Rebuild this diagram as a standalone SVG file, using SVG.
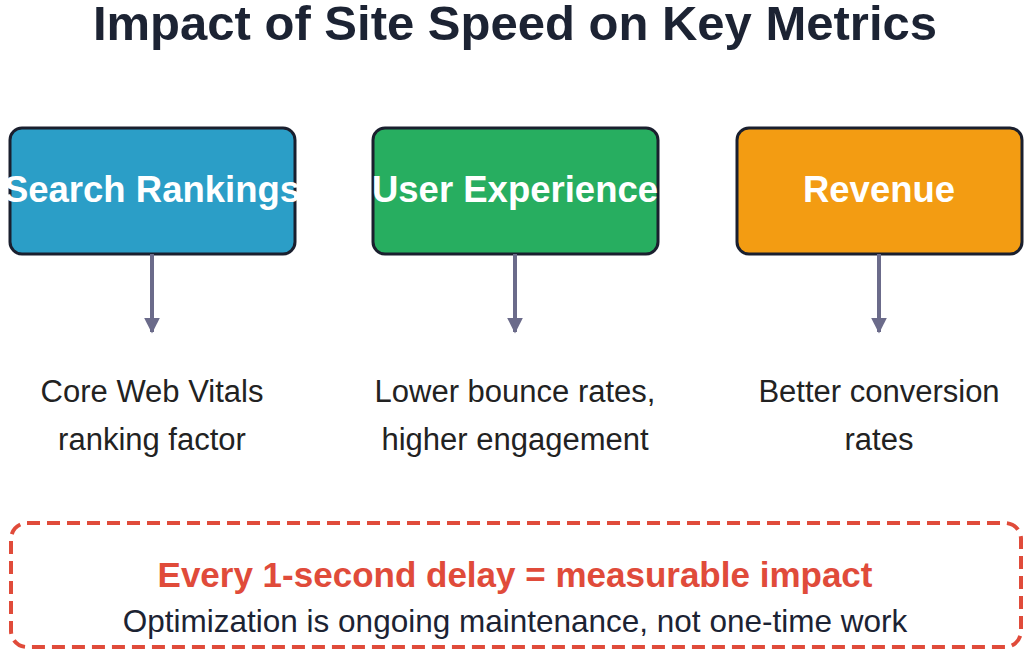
<svg xmlns="http://www.w3.org/2000/svg" width="1024" height="652" viewBox="0 0 1024 652">
<style>
text{font-family:"Liberation Sans",Arial,sans-serif;text-anchor:middle}
.box{stroke:#1a1f2e;stroke-width:3}
.bt{fill:#fff;font-size:36.5px;font-weight:bold}
.d{fill:#222;font-size:31px}
.c{stroke:#6b6b8a;stroke-width:4;fill:none}
</style>
<defs><marker id="ah" viewBox="0 0 10 10" refX="9" refY="5" markerWidth="4" markerHeight="4" orient="auto"><path d="M0,0L10,5L0,10z" fill="#6b6b8a"/></marker></defs>
<rect width="1024" height="652" fill="#fff"/>
<text x="515" y="40" font-size="49" font-weight="bold" fill="#1c2333">Impact of Site Speed on Key Metrics</text>
<g id="n1"><rect class="box" x="10" y="128" width="285" height="126" rx="12" fill="#2b9ec7"/><text class="bt" x="152" y="202">Search Rankings</text></g>
<g id="n2"><rect class="box" x="373" y="128" width="285" height="126" rx="12" fill="#27ae60"/><text class="bt" x="515" y="202">User Experience</text></g>
<g id="n3"><rect class="box" x="737" y="128" width="285" height="126" rx="12" fill="#f39c12"/><text class="bt" x="879" y="202">Revenue</text></g>
<g id="connectors">
<line class="c" x1="152" y1="254" x2="152" y2="332" marker-end="url(#ah)"/>
<line class="c" x1="515" y1="254" x2="515" y2="332" marker-end="url(#ah)"/>
<line class="c" x1="879" y1="254" x2="879" y2="332" marker-end="url(#ah)"/>
</g>
<g id="t1"><text class="d" x="152" y="402">Core Web Vitals</text><text class="d" x="152" y="450">ranking factor</text></g>
<g id="t2"><text class="d" x="515" y="402">Lower bounce rates,</text><text class="d" x="515" y="450">higher engagement</text></g>
<g id="t3"><text class="d" x="879" y="402">Better conversion</text><text class="d" x="879" y="450">rates</text></g>
<g id="note"><rect x="11" y="523" width="1010" height="124" rx="16" fill="none" stroke="#e04b3a" stroke-width="4" stroke-dasharray="13 7"/>
<text x="515" y="587" font-size="35" font-weight="bold" fill="#e04b3a">Every 1-second delay = measurable impact</text>
<text x="515" y="632" font-size="31.5" fill="#1c2333">Optimization is ongoing maintenance, not one-time work</text></g>
</svg>
